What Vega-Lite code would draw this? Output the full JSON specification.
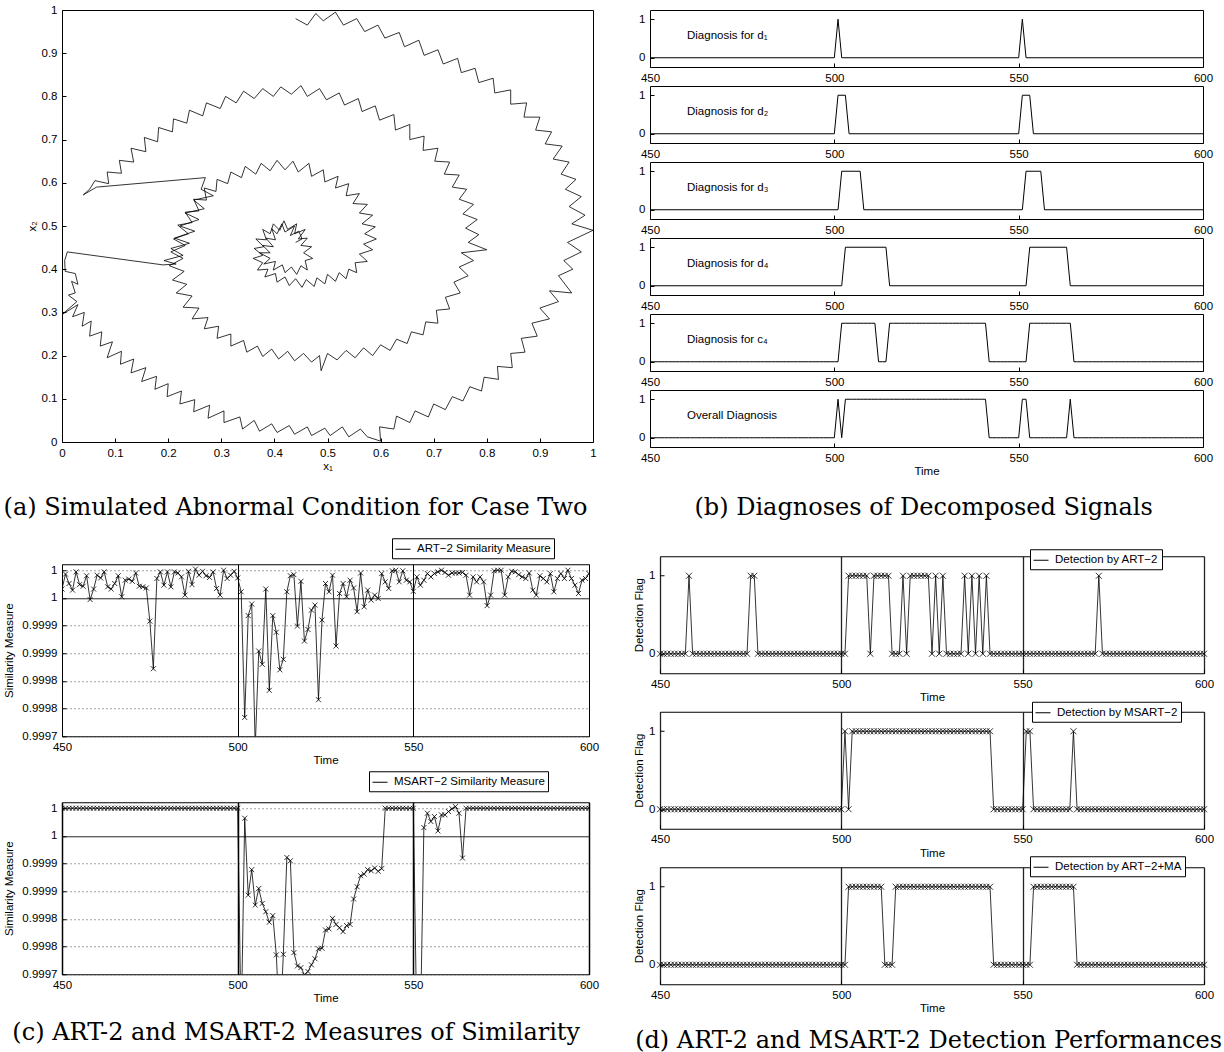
{
"$schema": "https://vega.github.io/schema/vega-lite/v6.json",
"background": "white",
"padding": {"left": 3, "top": 3, "right": 0, "bottom": 0},
"config": {
  "font": "Liberation Sans",
  "view": {"stroke": "black", "strokeWidth": 1},
  "axis": {"domain": false, "grid": false, "tickColor": "black", "tickSize": 4, "tickWidth": 1, "labelFont": "Liberation Sans", "labelFontSize": 11.5, "labelColor": "black", "titleFont": "Liberation Sans", "titleFontSize": 11.5, "titleFontWeight": "normal", "titleColor": "black"},
  "axisX": {"labelPadding": 5, "titlePadding": 2},
  "axisY": {"labelPadding": 5, "titlePadding": 4},
  "title": {"font": "DejaVu Serif", "fontSize": 24, "fontWeight": "normal", "color": "black", "orient": "bottom", "anchor": "middle"},
  "legend": {"strokeColor": "black", "fillColor": "white", "padding": 3, "labelFont": "Liberation Sans", "labelFontSize": 11.5, "labelColor": "black", "symbolType": "stroke", "symbolSize": 225, "symbolStrokeWidth": 1, "labelLimit": 0, "cornerRadius": 0, "labelOffset": 6, "rowPadding": 0, "title": null}
},
"datasets": {
"diag": [
{"s":"d1","t":450,"v":0},{"s":"d1","t":500,"v":0},{"s":"d1","t":501,"v":1},{"s":"d1","t":502,"v":0},{"s":"d1","t":550,"v":0},{"s":"d1","t":551,"v":1},{"s":"d1","t":552,"v":0},{"s":"d1","t":600,"v":0},
{"s":"d2","t":450,"v":0},{"s":"d2","t":500,"v":0},{"s":"d2","t":501,"v":1},{"s":"d2","t":503,"v":1},{"s":"d2","t":504,"v":0},{"s":"d2","t":550,"v":0},{"s":"d2","t":551,"v":1},{"s":"d2","t":553,"v":1},{"s":"d2","t":554,"v":0},{"s":"d2","t":600,"v":0},
{"s":"d3","t":450,"v":0},{"s":"d3","t":501,"v":0},{"s":"d3","t":502,"v":1},{"s":"d3","t":507,"v":1},{"s":"d3","t":508,"v":0},{"s":"d3","t":551,"v":0},{"s":"d3","t":552,"v":1},{"s":"d3","t":556,"v":1},{"s":"d3","t":557,"v":0},{"s":"d3","t":600,"v":0},
{"s":"d4","t":450,"v":0},{"s":"d4","t":502,"v":0},{"s":"d4","t":503,"v":1},{"s":"d4","t":514,"v":1},{"s":"d4","t":515,"v":0},{"s":"d4","t":552,"v":0},{"s":"d4","t":553,"v":1},{"s":"d4","t":563,"v":1},{"s":"d4","t":564,"v":0},{"s":"d4","t":600,"v":0}
],
"flags": [
{"s":"ART","t":450,"v":0},{"s":"ART","t":451,"v":0},{"s":"ART","t":452,"v":0},{"s":"ART","t":453,"v":0},{"s":"ART","t":454,"v":0},{"s":"ART","t":455,"v":0},{"s":"ART","t":456,"v":0},{"s":"ART","t":457,"v":0},{"s":"ART","t":458,"v":1},{"s":"ART","t":459,"v":0},
{"s":"ART","t":460,"v":0},{"s":"ART","t":461,"v":0},{"s":"ART","t":462,"v":0},{"s":"ART","t":463,"v":0},{"s":"ART","t":464,"v":0},{"s":"ART","t":465,"v":0},{"s":"ART","t":466,"v":0},{"s":"ART","t":467,"v":0},{"s":"ART","t":468,"v":0},{"s":"ART","t":469,"v":0},
{"s":"ART","t":470,"v":0},{"s":"ART","t":471,"v":0},{"s":"ART","t":472,"v":0},{"s":"ART","t":473,"v":0},{"s":"ART","t":474,"v":0},{"s":"ART","t":475,"v":1},{"s":"ART","t":476,"v":1},{"s":"ART","t":477,"v":0},{"s":"ART","t":478,"v":0},{"s":"ART","t":479,"v":0},
{"s":"ART","t":480,"v":0},{"s":"ART","t":481,"v":0},{"s":"ART","t":482,"v":0},{"s":"ART","t":483,"v":0},{"s":"ART","t":484,"v":0},{"s":"ART","t":485,"v":0},{"s":"ART","t":486,"v":0},{"s":"ART","t":487,"v":0},{"s":"ART","t":488,"v":0},{"s":"ART","t":489,"v":0},
{"s":"ART","t":490,"v":0},{"s":"ART","t":491,"v":0},{"s":"ART","t":492,"v":0},{"s":"ART","t":493,"v":0},{"s":"ART","t":494,"v":0},{"s":"ART","t":495,"v":0},{"s":"ART","t":496,"v":0},{"s":"ART","t":497,"v":0},{"s":"ART","t":498,"v":0},{"s":"ART","t":499,"v":0},
{"s":"ART","t":500,"v":0},{"s":"ART","t":501,"v":0},{"s":"ART","t":502,"v":1},{"s":"ART","t":503,"v":1},{"s":"ART","t":504,"v":1},{"s":"ART","t":505,"v":1},{"s":"ART","t":506,"v":1},{"s":"ART","t":507,"v":1},{"s":"ART","t":508,"v":0},{"s":"ART","t":509,"v":1},
{"s":"ART","t":510,"v":1},{"s":"ART","t":511,"v":1},{"s":"ART","t":512,"v":1},{"s":"ART","t":513,"v":1},{"s":"ART","t":514,"v":0},{"s":"ART","t":515,"v":0},{"s":"ART","t":516,"v":0},{"s":"ART","t":517,"v":1},{"s":"ART","t":518,"v":0},{"s":"ART","t":519,"v":1},
{"s":"ART","t":520,"v":1},{"s":"ART","t":521,"v":1},{"s":"ART","t":522,"v":1},{"s":"ART","t":523,"v":1},{"s":"ART","t":524,"v":1},{"s":"ART","t":525,"v":0},{"s":"ART","t":526,"v":1},{"s":"ART","t":527,"v":0},{"s":"ART","t":528,"v":1},{"s":"ART","t":529,"v":0},
{"s":"ART","t":530,"v":0},{"s":"ART","t":531,"v":0},{"s":"ART","t":532,"v":0},{"s":"ART","t":533,"v":0},{"s":"ART","t":534,"v":1},{"s":"ART","t":535,"v":0},{"s":"ART","t":536,"v":1},{"s":"ART","t":537,"v":0},{"s":"ART","t":538,"v":1},{"s":"ART","t":539,"v":0},
{"s":"ART","t":540,"v":1},{"s":"ART","t":541,"v":0},{"s":"ART","t":542,"v":0},{"s":"ART","t":543,"v":0},{"s":"ART","t":544,"v":0},{"s":"ART","t":545,"v":0},{"s":"ART","t":546,"v":0},{"s":"ART","t":547,"v":0},{"s":"ART","t":548,"v":0},{"s":"ART","t":549,"v":0},
{"s":"ART","t":550,"v":0},{"s":"ART","t":551,"v":0},{"s":"ART","t":552,"v":0},{"s":"ART","t":553,"v":0},{"s":"ART","t":554,"v":0},{"s":"ART","t":555,"v":0},{"s":"ART","t":556,"v":0},{"s":"ART","t":557,"v":0},{"s":"ART","t":558,"v":0},{"s":"ART","t":559,"v":0},
{"s":"ART","t":560,"v":0},{"s":"ART","t":561,"v":0},{"s":"ART","t":562,"v":0},{"s":"ART","t":563,"v":0},{"s":"ART","t":564,"v":0},{"s":"ART","t":565,"v":0},{"s":"ART","t":566,"v":0},{"s":"ART","t":567,"v":0},{"s":"ART","t":568,"v":0},{"s":"ART","t":569,"v":0},
{"s":"ART","t":570,"v":0},{"s":"ART","t":571,"v":1},{"s":"ART","t":572,"v":0},{"s":"ART","t":573,"v":0},{"s":"ART","t":574,"v":0},{"s":"ART","t":575,"v":0},{"s":"ART","t":576,"v":0},{"s":"ART","t":577,"v":0},{"s":"ART","t":578,"v":0},{"s":"ART","t":579,"v":0},
{"s":"ART","t":580,"v":0},{"s":"ART","t":581,"v":0},{"s":"ART","t":582,"v":0},{"s":"ART","t":583,"v":0},{"s":"ART","t":584,"v":0},{"s":"ART","t":585,"v":0},{"s":"ART","t":586,"v":0},{"s":"ART","t":587,"v":0},{"s":"ART","t":588,"v":0},{"s":"ART","t":589,"v":0},
{"s":"ART","t":590,"v":0},{"s":"ART","t":591,"v":0},{"s":"ART","t":592,"v":0},{"s":"ART","t":593,"v":0},{"s":"ART","t":594,"v":0},{"s":"ART","t":595,"v":0},{"s":"ART","t":596,"v":0},{"s":"ART","t":597,"v":0},{"s":"ART","t":598,"v":0},{"s":"ART","t":599,"v":0},{"s":"ART","t":600,"v":0},
{"s":"MSART","t":450,"v":0},{"s":"MSART","t":451,"v":0},{"s":"MSART","t":452,"v":0},{"s":"MSART","t":453,"v":0},{"s":"MSART","t":454,"v":0},{"s":"MSART","t":455,"v":0},{"s":"MSART","t":456,"v":0},{"s":"MSART","t":457,"v":0},{"s":"MSART","t":458,"v":0},{"s":"MSART","t":459,"v":0},
{"s":"MSART","t":460,"v":0},{"s":"MSART","t":461,"v":0},{"s":"MSART","t":462,"v":0},{"s":"MSART","t":463,"v":0},{"s":"MSART","t":464,"v":0},{"s":"MSART","t":465,"v":0},{"s":"MSART","t":466,"v":0},{"s":"MSART","t":467,"v":0},{"s":"MSART","t":468,"v":0},{"s":"MSART","t":469,"v":0},
{"s":"MSART","t":470,"v":0},{"s":"MSART","t":471,"v":0},{"s":"MSART","t":472,"v":0},{"s":"MSART","t":473,"v":0},{"s":"MSART","t":474,"v":0},{"s":"MSART","t":475,"v":0},{"s":"MSART","t":476,"v":0},{"s":"MSART","t":477,"v":0},{"s":"MSART","t":478,"v":0},{"s":"MSART","t":479,"v":0},
{"s":"MSART","t":480,"v":0},{"s":"MSART","t":481,"v":0},{"s":"MSART","t":482,"v":0},{"s":"MSART","t":483,"v":0},{"s":"MSART","t":484,"v":0},{"s":"MSART","t":485,"v":0},{"s":"MSART","t":486,"v":0},{"s":"MSART","t":487,"v":0},{"s":"MSART","t":488,"v":0},{"s":"MSART","t":489,"v":0},
{"s":"MSART","t":490,"v":0},{"s":"MSART","t":491,"v":0},{"s":"MSART","t":492,"v":0},{"s":"MSART","t":493,"v":0},{"s":"MSART","t":494,"v":0},{"s":"MSART","t":495,"v":0},{"s":"MSART","t":496,"v":0},{"s":"MSART","t":497,"v":0},{"s":"MSART","t":498,"v":0},{"s":"MSART","t":499,"v":0},
{"s":"MSART","t":500,"v":0},{"s":"MSART","t":501,"v":1},{"s":"MSART","t":502,"v":0},{"s":"MSART","t":503,"v":1},{"s":"MSART","t":504,"v":1},{"s":"MSART","t":505,"v":1},{"s":"MSART","t":506,"v":1},{"s":"MSART","t":507,"v":1},{"s":"MSART","t":508,"v":1},{"s":"MSART","t":509,"v":1},
{"s":"MSART","t":510,"v":1},{"s":"MSART","t":511,"v":1},{"s":"MSART","t":512,"v":1},{"s":"MSART","t":513,"v":1},{"s":"MSART","t":514,"v":1},{"s":"MSART","t":515,"v":1},{"s":"MSART","t":516,"v":1},{"s":"MSART","t":517,"v":1},{"s":"MSART","t":518,"v":1},{"s":"MSART","t":519,"v":1},
{"s":"MSART","t":520,"v":1},{"s":"MSART","t":521,"v":1},{"s":"MSART","t":522,"v":1},{"s":"MSART","t":523,"v":1},{"s":"MSART","t":524,"v":1},{"s":"MSART","t":525,"v":1},{"s":"MSART","t":526,"v":1},{"s":"MSART","t":527,"v":1},{"s":"MSART","t":528,"v":1},{"s":"MSART","t":529,"v":1},
{"s":"MSART","t":530,"v":1},{"s":"MSART","t":531,"v":1},{"s":"MSART","t":532,"v":1},{"s":"MSART","t":533,"v":1},{"s":"MSART","t":534,"v":1},{"s":"MSART","t":535,"v":1},{"s":"MSART","t":536,"v":1},{"s":"MSART","t":537,"v":1},{"s":"MSART","t":538,"v":1},{"s":"MSART","t":539,"v":1},
{"s":"MSART","t":540,"v":1},{"s":"MSART","t":541,"v":1},{"s":"MSART","t":542,"v":0},{"s":"MSART","t":543,"v":0},{"s":"MSART","t":544,"v":0},{"s":"MSART","t":545,"v":0},{"s":"MSART","t":546,"v":0},{"s":"MSART","t":547,"v":0},{"s":"MSART","t":548,"v":0},{"s":"MSART","t":549,"v":0},
{"s":"MSART","t":550,"v":0},{"s":"MSART","t":551,"v":1},{"s":"MSART","t":552,"v":1},{"s":"MSART","t":553,"v":0},{"s":"MSART","t":554,"v":0},{"s":"MSART","t":555,"v":0},{"s":"MSART","t":556,"v":0},{"s":"MSART","t":557,"v":0},{"s":"MSART","t":558,"v":0},{"s":"MSART","t":559,"v":0},
{"s":"MSART","t":560,"v":0},{"s":"MSART","t":561,"v":0},{"s":"MSART","t":562,"v":0},{"s":"MSART","t":563,"v":0},{"s":"MSART","t":564,"v":1},{"s":"MSART","t":565,"v":0},{"s":"MSART","t":566,"v":0},{"s":"MSART","t":567,"v":0},{"s":"MSART","t":568,"v":0},{"s":"MSART","t":569,"v":0},
{"s":"MSART","t":570,"v":0},{"s":"MSART","t":571,"v":0},{"s":"MSART","t":572,"v":0},{"s":"MSART","t":573,"v":0},{"s":"MSART","t":574,"v":0},{"s":"MSART","t":575,"v":0},{"s":"MSART","t":576,"v":0},{"s":"MSART","t":577,"v":0},{"s":"MSART","t":578,"v":0},{"s":"MSART","t":579,"v":0},
{"s":"MSART","t":580,"v":0},{"s":"MSART","t":581,"v":0},{"s":"MSART","t":582,"v":0},{"s":"MSART","t":583,"v":0},{"s":"MSART","t":584,"v":0},{"s":"MSART","t":585,"v":0},{"s":"MSART","t":586,"v":0},{"s":"MSART","t":587,"v":0},{"s":"MSART","t":588,"v":0},{"s":"MSART","t":589,"v":0},
{"s":"MSART","t":590,"v":0},{"s":"MSART","t":591,"v":0},{"s":"MSART","t":592,"v":0},{"s":"MSART","t":593,"v":0},{"s":"MSART","t":594,"v":0},{"s":"MSART","t":595,"v":0},{"s":"MSART","t":596,"v":0},{"s":"MSART","t":597,"v":0},{"s":"MSART","t":598,"v":0},{"s":"MSART","t":599,"v":0},{"s":"MSART","t":600,"v":0},
{"s":"ARTMA","t":450,"v":0},{"s":"ARTMA","t":451,"v":0},{"s":"ARTMA","t":452,"v":0},{"s":"ARTMA","t":453,"v":0},{"s":"ARTMA","t":454,"v":0},{"s":"ARTMA","t":455,"v":0},{"s":"ARTMA","t":456,"v":0},{"s":"ARTMA","t":457,"v":0},{"s":"ARTMA","t":458,"v":0},{"s":"ARTMA","t":459,"v":0},
{"s":"ARTMA","t":460,"v":0},{"s":"ARTMA","t":461,"v":0},{"s":"ARTMA","t":462,"v":0},{"s":"ARTMA","t":463,"v":0},{"s":"ARTMA","t":464,"v":0},{"s":"ARTMA","t":465,"v":0},{"s":"ARTMA","t":466,"v":0},{"s":"ARTMA","t":467,"v":0},{"s":"ARTMA","t":468,"v":0},{"s":"ARTMA","t":469,"v":0},
{"s":"ARTMA","t":470,"v":0},{"s":"ARTMA","t":471,"v":0},{"s":"ARTMA","t":472,"v":0},{"s":"ARTMA","t":473,"v":0},{"s":"ARTMA","t":474,"v":0},{"s":"ARTMA","t":475,"v":0},{"s":"ARTMA","t":476,"v":0},{"s":"ARTMA","t":477,"v":0},{"s":"ARTMA","t":478,"v":0},{"s":"ARTMA","t":479,"v":0},
{"s":"ARTMA","t":480,"v":0},{"s":"ARTMA","t":481,"v":0},{"s":"ARTMA","t":482,"v":0},{"s":"ARTMA","t":483,"v":0},{"s":"ARTMA","t":484,"v":0},{"s":"ARTMA","t":485,"v":0},{"s":"ARTMA","t":486,"v":0},{"s":"ARTMA","t":487,"v":0},{"s":"ARTMA","t":488,"v":0},{"s":"ARTMA","t":489,"v":0},
{"s":"ARTMA","t":490,"v":0},{"s":"ARTMA","t":491,"v":0},{"s":"ARTMA","t":492,"v":0},{"s":"ARTMA","t":493,"v":0},{"s":"ARTMA","t":494,"v":0},{"s":"ARTMA","t":495,"v":0},{"s":"ARTMA","t":496,"v":0},{"s":"ARTMA","t":497,"v":0},{"s":"ARTMA","t":498,"v":0},{"s":"ARTMA","t":499,"v":0},
{"s":"ARTMA","t":500,"v":0},{"s":"ARTMA","t":501,"v":0},{"s":"ARTMA","t":502,"v":1},{"s":"ARTMA","t":503,"v":1},{"s":"ARTMA","t":504,"v":1},{"s":"ARTMA","t":505,"v":1},{"s":"ARTMA","t":506,"v":1},{"s":"ARTMA","t":507,"v":1},{"s":"ARTMA","t":508,"v":1},{"s":"ARTMA","t":509,"v":1},
{"s":"ARTMA","t":510,"v":1},{"s":"ARTMA","t":511,"v":1},{"s":"ARTMA","t":512,"v":0},{"s":"ARTMA","t":513,"v":0},{"s":"ARTMA","t":514,"v":0},{"s":"ARTMA","t":515,"v":1},{"s":"ARTMA","t":516,"v":1},{"s":"ARTMA","t":517,"v":1},{"s":"ARTMA","t":518,"v":1},{"s":"ARTMA","t":519,"v":1},
{"s":"ARTMA","t":520,"v":1},{"s":"ARTMA","t":521,"v":1},{"s":"ARTMA","t":522,"v":1},{"s":"ARTMA","t":523,"v":1},{"s":"ARTMA","t":524,"v":1},{"s":"ARTMA","t":525,"v":1},{"s":"ARTMA","t":526,"v":1},{"s":"ARTMA","t":527,"v":1},{"s":"ARTMA","t":528,"v":1},{"s":"ARTMA","t":529,"v":1},
{"s":"ARTMA","t":530,"v":1},{"s":"ARTMA","t":531,"v":1},{"s":"ARTMA","t":532,"v":1},{"s":"ARTMA","t":533,"v":1},{"s":"ARTMA","t":534,"v":1},{"s":"ARTMA","t":535,"v":1},{"s":"ARTMA","t":536,"v":1},{"s":"ARTMA","t":537,"v":1},{"s":"ARTMA","t":538,"v":1},{"s":"ARTMA","t":539,"v":1},
{"s":"ARTMA","t":540,"v":1},{"s":"ARTMA","t":541,"v":1},{"s":"ARTMA","t":542,"v":0},{"s":"ARTMA","t":543,"v":0},{"s":"ARTMA","t":544,"v":0},{"s":"ARTMA","t":545,"v":0},{"s":"ARTMA","t":546,"v":0},{"s":"ARTMA","t":547,"v":0},{"s":"ARTMA","t":548,"v":0},{"s":"ARTMA","t":549,"v":0},
{"s":"ARTMA","t":550,"v":0},{"s":"ARTMA","t":551,"v":0},{"s":"ARTMA","t":552,"v":0},{"s":"ARTMA","t":553,"v":1},{"s":"ARTMA","t":554,"v":1},{"s":"ARTMA","t":555,"v":1},{"s":"ARTMA","t":556,"v":1},{"s":"ARTMA","t":557,"v":1},{"s":"ARTMA","t":558,"v":1},{"s":"ARTMA","t":559,"v":1},
{"s":"ARTMA","t":560,"v":1},{"s":"ARTMA","t":561,"v":1},{"s":"ARTMA","t":562,"v":1},{"s":"ARTMA","t":563,"v":1},{"s":"ARTMA","t":564,"v":1},{"s":"ARTMA","t":565,"v":0},{"s":"ARTMA","t":566,"v":0},{"s":"ARTMA","t":567,"v":0},{"s":"ARTMA","t":568,"v":0},{"s":"ARTMA","t":569,"v":0},
{"s":"ARTMA","t":570,"v":0},{"s":"ARTMA","t":571,"v":0},{"s":"ARTMA","t":572,"v":0},{"s":"ARTMA","t":573,"v":0},{"s":"ARTMA","t":574,"v":0},{"s":"ARTMA","t":575,"v":0},{"s":"ARTMA","t":576,"v":0},{"s":"ARTMA","t":577,"v":0},{"s":"ARTMA","t":578,"v":0},{"s":"ARTMA","t":579,"v":0},
{"s":"ARTMA","t":580,"v":0},{"s":"ARTMA","t":581,"v":0},{"s":"ARTMA","t":582,"v":0},{"s":"ARTMA","t":583,"v":0},{"s":"ARTMA","t":584,"v":0},{"s":"ARTMA","t":585,"v":0},{"s":"ARTMA","t":586,"v":0},{"s":"ARTMA","t":587,"v":0},{"s":"ARTMA","t":588,"v":0},{"s":"ARTMA","t":589,"v":0},
{"s":"ARTMA","t":590,"v":0},{"s":"ARTMA","t":591,"v":0},{"s":"ARTMA","t":592,"v":0},{"s":"ARTMA","t":593,"v":0},{"s":"ARTMA","t":594,"v":0},{"s":"ARTMA","t":595,"v":0},{"s":"ARTMA","t":596,"v":0},{"s":"ARTMA","t":597,"v":0},{"s":"ARTMA","t":598,"v":0},{"s":"ARTMA","t":599,"v":0},{"s":"ARTMA","t":600,"v":0}
],
"sim": [
{"s":"ART","t":450,"v":0.999966},{"s":"ART","t":451,"v":0.999993},{"s":"ART","t":452,"v":0.999976},{"s":"ART","t":453,"v":0.999964},{"s":"ART","t":454,"v":0.999997},{"s":"ART","t":455,"v":0.999974},{"s":"ART","t":456,"v":0.999971},{"s":"ART","t":457,"v":0.99999},{"s":"ART","t":458,"v":0.999947},{"s":"ART","t":459,"v":0.999966},
{"s":"ART","t":460,"v":0.999991},{"s":"ART","t":461,"v":0.999986},{"s":"ART","t":462,"v":0.999997},{"s":"ART","t":463,"v":0.99997},{"s":"ART","t":464,"v":0.999966},{"s":"ART","t":465,"v":0.999976},{"s":"ART","t":466,"v":0.99999},{"s":"ART","t":467,"v":0.999952},{"s":"ART","t":468,"v":0.999982},{"s":"ART","t":469,"v":0.999984},
{"s":"ART","t":470,"v":0.99998},{"s":"ART","t":471,"v":0.999995},{"s":"ART","t":472,"v":0.999971},{"s":"ART","t":473,"v":0.99997},{"s":"ART","t":474,"v":0.999968},{"s":"ART","t":475,"v":0.999908},{"s":"ART","t":476,"v":0.999822},{"s":"ART","t":477,"v":0.999985},{"s":"ART","t":478,"v":0.999997},{"s":"ART","t":479,"v":0.999973},
{"s":"ART","t":480,"v":0.999997},{"s":"ART","t":481,"v":0.99997},{"s":"ART","t":482,"v":0.999997},{"s":"ART","t":483,"v":0.999995},{"s":"ART","t":484,"v":0.999988},{"s":"ART","t":485,"v":0.999955},{"s":"ART","t":486,"v":0.999998},{"s":"ART","t":487,"v":0.999974},{"s":"ART","t":488,"v":1.000002},{"s":"ART","t":489,"v":0.999991},
{"s":"ART","t":490,"v":0.999998},{"s":"ART","t":491,"v":0.99999},{"s":"ART","t":492,"v":0.999987},{"s":"ART","t":493,"v":0.999997},{"s":"ART","t":494,"v":0.999967},{"s":"ART","t":495,"v":0.999955},{"s":"ART","t":496,"v":1.0},{"s":"ART","t":497,"v":0.999985},{"s":"ART","t":498,"v":0.999991},{"s":"ART","t":499,"v":0.999998},
{"s":"ART","t":500,"v":0.999986},{"s":"ART","t":501,"v":0.999961},{"s":"ART","t":502,"v":0.999734},{"s":"ART","t":503,"v":0.999918},{"s":"ART","t":504,"v":0.999939},{"s":"ART","t":505,"v":0.99968},{"s":"ART","t":506,"v":0.999854},{"s":"ART","t":507,"v":0.99983},{"s":"ART","t":508,"v":0.999966},{"s":"ART","t":509,"v":0.999783},
{"s":"ART","t":510,"v":0.999918},{"s":"ART","t":511,"v":0.999888},{"s":"ART","t":512,"v":0.99982},{"s":"ART","t":513,"v":0.999839},{"s":"ART","t":514,"v":0.999961},{"s":"ART","t":515,"v":0.99999},{"s":"ART","t":516,"v":0.999992},{"s":"ART","t":517,"v":0.999899},{"s":"ART","t":518,"v":0.99998},{"s":"ART","t":519,"v":0.999872},
{"s":"ART","t":520,"v":0.999893},{"s":"ART","t":521,"v":0.999928},{"s":"ART","t":522,"v":0.999937},{"s":"ART","t":523,"v":0.999766},{"s":"ART","t":524,"v":0.99991},{"s":"ART","t":525,"v":0.999976},{"s":"ART","t":526,"v":0.999961},{"s":"ART","t":527,"v":0.999991},{"s":"ART","t":528,"v":0.999863},{"s":"ART","t":529,"v":0.999958},
{"s":"ART","t":530,"v":0.999976},{"s":"ART","t":531,"v":0.999952},{"s":"ART","t":532,"v":0.999982},{"s":"ART","t":533,"v":0.999968},{"s":"ART","t":534,"v":0.999925},{"s":"ART","t":535,"v":0.999995},{"s":"ART","t":536,"v":0.999934},{"s":"ART","t":537,"v":0.999964},{"s":"ART","t":538,"v":0.999946},{"s":"ART","t":539,"v":0.999955},
{"s":"ART","t":540,"v":0.999949},{"s":"ART","t":541,"v":0.999994},{"s":"ART","t":542,"v":0.999979},{"s":"ART","t":543,"v":0.999967},{"s":"ART","t":544,"v":0.999999},{"s":"ART","t":545,"v":1.0},{"s":"ART","t":546,"v":0.999979},{"s":"ART","t":547,"v":0.999999},{"s":"ART","t":548,"v":0.999982},{"s":"ART","t":549,"v":0.999979},
{"s":"ART","t":550,"v":0.999962},{"s":"ART","t":551,"v":0.999988},{"s":"ART","t":552,"v":0.999973},{"s":"ART","t":553,"v":0.999982},{"s":"ART","t":554,"v":0.999994},{"s":"ART","t":555,"v":0.999988},{"s":"ART","t":556,"v":0.999994},{"s":"ART","t":557,"v":0.999997},{"s":"ART","t":558,"v":1.0},{"s":"ART","t":559,"v":0.999996},
{"s":"ART","t":560,"v":0.999991},{"s":"ART","t":561,"v":0.999995},{"s":"ART","t":562,"v":0.999995},{"s":"ART","t":563,"v":0.999995},{"s":"ART","t":564,"v":0.999996},{"s":"ART","t":565,"v":0.999991},{"s":"ART","t":566,"v":0.999955},{"s":"ART","t":567,"v":0.999988},{"s":"ART","t":568,"v":0.999979},{"s":"ART","t":569,"v":0.999988},
{"s":"ART","t":570,"v":0.999979},{"s":"ART","t":571,"v":0.999936},{"s":"ART","t":572,"v":0.999955},{"s":"ART","t":573,"v":0.999999},{"s":"ART","t":574,"v":1.0},{"s":"ART","t":575,"v":1.0},{"s":"ART","t":576,"v":0.999955},{"s":"ART","t":577,"v":0.999988},{"s":"ART","t":578,"v":0.999998},{"s":"ART","t":579,"v":0.999997},
{"s":"ART","t":580,"v":0.999992},{"s":"ART","t":581,"v":0.999988},{"s":"ART","t":582,"v":0.999985},{"s":"ART","t":583,"v":0.999995},{"s":"ART","t":584,"v":0.999964},{"s":"ART","t":585,"v":0.999955},{"s":"ART","t":586,"v":0.99999},{"s":"ART","t":587,"v":0.999985},{"s":"ART","t":588,"v":0.999979},{"s":"ART","t":589,"v":0.999994},
{"s":"ART","t":590,"v":0.999961},{"s":"ART","t":591,"v":0.999985},{"s":"ART","t":592,"v":0.999994},{"s":"ART","t":593,"v":0.999985},{"s":"ART","t":594,"v":1.0},{"s":"ART","t":595,"v":0.999985},{"s":"ART","t":596,"v":0.999973},{"s":"ART","t":597,"v":0.999958},{"s":"ART","t":598,"v":0.999982},{"s":"ART","t":599,"v":0.999985},{"s":"ART","t":600,"v":0.999994},
{"s":"MSART","t":450,"v":1.0},{"s":"MSART","t":451,"v":1.0},{"s":"MSART","t":452,"v":1.0},{"s":"MSART","t":453,"v":1.0},{"s":"MSART","t":454,"v":1.0},{"s":"MSART","t":455,"v":1.0},{"s":"MSART","t":456,"v":1.0},{"s":"MSART","t":457,"v":1.0},{"s":"MSART","t":458,"v":1.0},{"s":"MSART","t":459,"v":1.0},
{"s":"MSART","t":460,"v":1.0},{"s":"MSART","t":461,"v":1.0},{"s":"MSART","t":462,"v":1.0},{"s":"MSART","t":463,"v":1.0},{"s":"MSART","t":464,"v":1.0},{"s":"MSART","t":465,"v":1.0},{"s":"MSART","t":466,"v":1.0},{"s":"MSART","t":467,"v":1.0},{"s":"MSART","t":468,"v":1.0},{"s":"MSART","t":469,"v":1.0},
{"s":"MSART","t":470,"v":1.0},{"s":"MSART","t":471,"v":1.0},{"s":"MSART","t":472,"v":1.0},{"s":"MSART","t":473,"v":1.0},{"s":"MSART","t":474,"v":1.0},{"s":"MSART","t":475,"v":1.0},{"s":"MSART","t":476,"v":1.0},{"s":"MSART","t":477,"v":1.0},{"s":"MSART","t":478,"v":1.0},{"s":"MSART","t":479,"v":1.0},
{"s":"MSART","t":480,"v":1.0},{"s":"MSART","t":481,"v":1.0},{"s":"MSART","t":482,"v":1.0},{"s":"MSART","t":483,"v":1.0},{"s":"MSART","t":484,"v":1.0},{"s":"MSART","t":485,"v":1.0},{"s":"MSART","t":486,"v":1.0},{"s":"MSART","t":487,"v":1.0},{"s":"MSART","t":488,"v":1.0},{"s":"MSART","t":489,"v":1.0},
{"s":"MSART","t":490,"v":1.0},{"s":"MSART","t":491,"v":1.0},{"s":"MSART","t":492,"v":1.0},{"s":"MSART","t":493,"v":1.0},{"s":"MSART","t":494,"v":1.0},{"s":"MSART","t":495,"v":1.0},{"s":"MSART","t":496,"v":1.0},{"s":"MSART","t":497,"v":1.0},{"s":"MSART","t":498,"v":1.0},{"s":"MSART","t":499,"v":1.0},
{"s":"MSART","t":500,"v":1.0},{"s":"MSART","t":501,"v":0.9996},{"s":"MSART","t":502,"v":0.999982},{"s":"MSART","t":503,"v":0.999843},{"s":"MSART","t":504,"v":0.999889},{"s":"MSART","t":505,"v":0.999825},{"s":"MSART","t":506,"v":0.999855},{"s":"MSART","t":507,"v":0.999828},{"s":"MSART","t":508,"v":0.999813},{"s":"MSART","t":509,"v":0.999794},
{"s":"MSART","t":510,"v":0.999806},{"s":"MSART","t":511,"v":0.999735},{"s":"MSART","t":512,"v":0.9996},{"s":"MSART","t":513,"v":0.999736},{"s":"MSART","t":514,"v":0.999911},{"s":"MSART","t":515,"v":0.999905},{"s":"MSART","t":516,"v":0.999739},{"s":"MSART","t":517,"v":0.999715},{"s":"MSART","t":518,"v":0.999712},{"s":"MSART","t":519,"v":0.999699},
{"s":"MSART","t":520,"v":0.999705},{"s":"MSART","t":521,"v":0.999717},{"s":"MSART","t":522,"v":0.999728},{"s":"MSART","t":523,"v":0.999746},{"s":"MSART","t":524,"v":0.999747},{"s":"MSART","t":525,"v":0.99978},{"s":"MSART","t":526,"v":0.999782},{"s":"MSART","t":527,"v":0.999801},{"s":"MSART","t":528,"v":0.99979},{"s":"MSART","t":529,"v":0.999784},
{"s":"MSART","t":530,"v":0.999777},{"s":"MSART","t":531,"v":0.999788},{"s":"MSART","t":532,"v":0.99979},{"s":"MSART","t":533,"v":0.999836},{"s":"MSART","t":534,"v":0.999858},{"s":"MSART","t":535,"v":0.999878},{"s":"MSART","t":536,"v":0.999881},{"s":"MSART","t":537,"v":0.999889},{"s":"MSART","t":538,"v":0.999887},{"s":"MSART","t":539,"v":0.999892},
{"s":"MSART","t":540,"v":0.999886},{"s":"MSART","t":541,"v":0.999891},{"s":"MSART","t":542,"v":1.0},{"s":"MSART","t":543,"v":1.0},{"s":"MSART","t":544,"v":1.0},{"s":"MSART","t":545,"v":1.0},{"s":"MSART","t":546,"v":1.0},{"s":"MSART","t":547,"v":1.0},{"s":"MSART","t":548,"v":1.0},{"s":"MSART","t":549,"v":1.0},
{"s":"MSART","t":550,"v":1.0},{"s":"MSART","t":551,"v":0.9996},{"s":"MSART","t":552,"v":0.9996},{"s":"MSART","t":553,"v":0.999965},{"s":"MSART","t":554,"v":0.999991},{"s":"MSART","t":555,"v":0.999976},{"s":"MSART","t":556,"v":0.999985},{"s":"MSART","t":557,"v":0.999959},{"s":"MSART","t":558,"v":0.999988},{"s":"MSART","t":559,"v":0.999988},
{"s":"MSART","t":560,"v":0.999994},{"s":"MSART","t":561,"v":0.999999},{"s":"MSART","t":562,"v":1.000003},{"s":"MSART","t":563,"v":0.999991},{"s":"MSART","t":564,"v":0.99991},{"s":"MSART","t":565,"v":1.0},{"s":"MSART","t":566,"v":1.0},{"s":"MSART","t":567,"v":1.0},{"s":"MSART","t":568,"v":1.0},{"s":"MSART","t":569,"v":1.0},
{"s":"MSART","t":570,"v":1.0},{"s":"MSART","t":571,"v":1.0},{"s":"MSART","t":572,"v":1.0},{"s":"MSART","t":573,"v":1.0},{"s":"MSART","t":574,"v":1.0},{"s":"MSART","t":575,"v":1.0},{"s":"MSART","t":576,"v":1.0},{"s":"MSART","t":577,"v":1.0},{"s":"MSART","t":578,"v":1.0},{"s":"MSART","t":579,"v":1.0},
{"s":"MSART","t":580,"v":1.0},{"s":"MSART","t":581,"v":1.0},{"s":"MSART","t":582,"v":1.0},{"s":"MSART","t":583,"v":1.0},{"s":"MSART","t":584,"v":1.0},{"s":"MSART","t":585,"v":1.0},{"s":"MSART","t":586,"v":1.0},{"s":"MSART","t":587,"v":1.0},{"s":"MSART","t":588,"v":1.0},{"s":"MSART","t":589,"v":1.0},
{"s":"MSART","t":590,"v":1.0},{"s":"MSART","t":591,"v":1.0},{"s":"MSART","t":592,"v":1.0},{"s":"MSART","t":593,"v":1.0},{"s":"MSART","t":594,"v":1.0},{"s":"MSART","t":595,"v":1.0},{"s":"MSART","t":596,"v":1.0},{"s":"MSART","t":597,"v":1.0},{"s":"MSART","t":598,"v":1.0},{"s":"MSART","t":599,"v":1.0},{"s":"MSART","t":600,"v":1.0}
],
"spiral": [
{"i":1,"x":0.440,"y":0.462},{"i":2,"x":0.452,"y":0.470},{"i":3,"x":0.446,"y":0.488},{"i":4,"x":0.430,"y":0.478},{"i":5,"x":0.438,"y":0.500},{"i":6,"x":0.420,"y":0.486},{"i":7,"x":0.414,"y":0.505},{"i":8,"x":0.405,"y":0.482},{"i":9,"x":0.395,"y":0.494},{"i":10,"x":0.402,"y":0.468},
{"i":11,"x":0.384,"y":0.472},{"i":12,"x":0.398,"y":0.452},{"i":13,"x":0.378,"y":0.455},{"i":14,"x":0.392,"y":0.438},{"i":15,"x":0.372,"y":0.438},{"i":16,"x":0.392,"y":0.425},{"i":17,"x":0.380,"y":0.412},{"i":18,"x":0.402,"y":0.418},{"i":19,"x":0.398,"y":0.398},{"i":20,"x":0.415,"y":0.410},
{"i":21,"x":0.420,"y":0.392},{"i":22,"x":0.432,"y":0.405},{"i":23,"x":0.442,"y":0.388},{"i":24,"x":0.450,"y":0.408},{"i":25,"x":0.462,"y":0.398},{"i":26,"x":0.458,"y":0.420},{"i":27,"x":0.472,"y":0.425},{"i":28,"x":0.455,"y":0.438},{"i":29,"x":0.470,"y":0.452},{"i":30,"x":0.450,"y":0.455},
{"i":31,"x":0.462,"y":0.472},{"i":32,"x":0.445,"y":0.470},{"i":33,"x":0.458,"y":0.492},{"i":34,"x":0.438,"y":0.482},{"i":35,"x":0.442,"y":0.505},{"i":36,"x":0.425,"y":0.492},{"i":37,"x":0.418,"y":0.512},{"i":38,"x":0.410,"y":0.490},{"i":39,"x":0.398,"y":0.505},{"i":40,"x":0.392,"y":0.482},
{"i":41,"x":0.378,"y":0.492},{"i":42,"x":0.385,"y":0.468},{"i":43,"x":0.365,"y":0.470},{"i":44,"x":0.380,"y":0.452},{"i":45,"x":0.362,"y":0.448},{"i":46,"x":0.378,"y":0.432},{"i":47,"x":0.360,"y":0.425},{"i":48,"x":0.378,"y":0.415},{"i":49,"x":0.368,"y":0.398},{"i":50,"x":0.388,"y":0.400},
{"i":51,"x":0.382,"y":0.382},{"i":52,"x":0.402,"y":0.390},{"i":53,"x":0.405,"y":0.370},{"i":54,"x":0.420,"y":0.382},{"i":55,"x":0.428,"y":0.362},{"i":56,"x":0.440,"y":0.378},{"i":57,"x":0.452,"y":0.358},{"i":58,"x":0.460,"y":0.376},{"i":59,"x":0.475,"y":0.360},{"i":60,"x":0.480,"y":0.380},
{"i":61,"x":0.495,"y":0.366},{"i":62,"x":0.500,"y":0.388},{"i":63,"x":0.515,"y":0.372},{"i":64,"x":0.522,"y":0.392},{"i":65,"x":0.535,"y":0.378},{"i":66,"x":0.540,"y":0.400},{"i":67,"x":0.555,"y":0.392},{"i":68,"x":0.552,"y":0.415},{"i":69,"x":0.575,"y":0.418},{"i":70,"x":0.560,"y":0.435},
{"i":71,"x":0.585,"y":0.445},{"i":72,"x":0.568,"y":0.458},{"i":73,"x":0.592,"y":0.470},{"i":74,"x":0.570,"y":0.482},{"i":75,"x":0.590,"y":0.498},{"i":76,"x":0.565,"y":0.505},{"i":77,"x":0.585,"y":0.525},{"i":78,"x":0.560,"y":0.530},{"i":79,"x":0.575,"y":0.550},{"i":80,"x":0.548,"y":0.552},
{"i":81,"x":0.560,"y":0.575},{"i":82,"x":0.535,"y":0.570},{"i":83,"x":0.540,"y":0.598},{"i":84,"x":0.515,"y":0.588},{"i":85,"x":0.520,"y":0.615},{"i":86,"x":0.495,"y":0.602},{"i":87,"x":0.492,"y":0.630},{"i":88,"x":0.470,"y":0.615},{"i":89,"x":0.465,"y":0.645},{"i":90,"x":0.445,"y":0.625},
{"i":91,"x":0.435,"y":0.650},{"i":92,"x":0.420,"y":0.630},{"i":93,"x":0.405,"y":0.652},{"i":94,"x":0.392,"y":0.628},{"i":95,"x":0.375,"y":0.645},{"i":96,"x":0.365,"y":0.620},{"i":97,"x":0.345,"y":0.638},{"i":98,"x":0.338,"y":0.612},{"i":99,"x":0.318,"y":0.625},{"i":100,"x":0.312,"y":0.598},
{"i":101,"x":0.292,"y":0.608},{"i":102,"x":0.290,"y":0.580},{"i":103,"x":0.268,"y":0.588},{"i":104,"x":0.272,"y":0.560},{"i":105,"x":0.248,"y":0.562},{"i":106,"x":0.258,"y":0.535},{"i":107,"x":0.232,"y":0.532},{"i":108,"x":0.245,"y":0.508},{"i":109,"x":0.218,"y":0.502},{"i":110,"x":0.238,"y":0.482},
{"i":111,"x":0.210,"y":0.470},{"i":112,"x":0.232,"y":0.455},{"i":113,"x":0.205,"y":0.440},{"i":114,"x":0.228,"y":0.425},{"i":115,"x":0.202,"y":0.408},{"i":116,"x":0.230,"y":0.395},{"i":117,"x":0.208,"y":0.375},{"i":118,"x":0.235,"y":0.365},{"i":119,"x":0.215,"y":0.345},{"i":120,"x":0.245,"y":0.338},
{"i":121,"x":0.228,"y":0.312},{"i":122,"x":0.258,"y":0.310},{"i":123,"x":0.245,"y":0.285},{"i":124,"x":0.275,"y":0.288},{"i":125,"x":0.268,"y":0.262},{"i":126,"x":0.295,"y":0.268},{"i":127,"x":0.292,"y":0.240},{"i":128,"x":0.318,"y":0.250},{"i":129,"x":0.318,"y":0.222},{"i":130,"x":0.342,"y":0.235},
{"i":131,"x":0.348,"y":0.208},{"i":132,"x":0.368,"y":0.222},{"i":133,"x":0.378,"y":0.198},{"i":134,"x":0.395,"y":0.215},{"i":135,"x":0.408,"y":0.192},{"i":136,"x":0.425,"y":0.210},{"i":137,"x":0.438,"y":0.188},{"i":138,"x":0.455,"y":0.205},{"i":139,"x":0.470,"y":0.185},{"i":140,"x":0.485,"y":0.200},
{"i":141,"x":0.488,"y":0.165},{"i":142,"x":0.500,"y":0.205},{"i":143,"x":0.518,"y":0.190},{"i":144,"x":0.535,"y":0.212},{"i":145,"x":0.552,"y":0.195},{"i":146,"x":0.568,"y":0.218},{"i":147,"x":0.585,"y":0.200},{"i":148,"x":0.600,"y":0.225},{"i":149,"x":0.618,"y":0.212},{"i":150,"x":0.630,"y":0.238},
{"i":151,"x":0.650,"y":0.228},{"i":152,"x":0.658,"y":0.255},{"i":153,"x":0.680,"y":0.248},{"i":154,"x":0.685,"y":0.278},{"i":155,"x":0.708,"y":0.275},{"i":156,"x":0.705,"y":0.305},{"i":157,"x":0.730,"y":0.308},{"i":158,"x":0.722,"y":0.335},{"i":159,"x":0.750,"y":0.345},{"i":160,"x":0.738,"y":0.370},
{"i":161,"x":0.765,"y":0.385},{"i":162,"x":0.748,"y":0.405},{"i":163,"x":0.775,"y":0.420},{"i":164,"x":0.752,"y":0.438},{"i":165,"x":0.800,"y":0.445},{"i":166,"x":0.765,"y":0.462},{"i":167,"x":0.785,"y":0.480},{"i":168,"x":0.760,"y":0.495},{"i":169,"x":0.782,"y":0.515},{"i":170,"x":0.755,"y":0.528},
{"i":171,"x":0.775,"y":0.550},{"i":172,"x":0.748,"y":0.562},{"i":173,"x":0.762,"y":0.585},{"i":174,"x":0.735,"y":0.590},{"i":175,"x":0.748,"y":0.618},{"i":176,"x":0.720,"y":0.620},{"i":177,"x":0.730,"y":0.648},{"i":178,"x":0.702,"y":0.650},{"i":179,"x":0.708,"y":0.680},{"i":180,"x":0.680,"y":0.675},
{"i":181,"x":0.682,"y":0.708},{"i":182,"x":0.655,"y":0.700},{"i":183,"x":0.655,"y":0.735},{"i":184,"x":0.628,"y":0.722},{"i":185,"x":0.625,"y":0.758},{"i":186,"x":0.598,"y":0.745},{"i":187,"x":0.590,"y":0.778},{"i":188,"x":0.565,"y":0.765},{"i":189,"x":0.558,"y":0.795},{"i":190,"x":0.532,"y":0.780},
{"i":191,"x":0.522,"y":0.808},{"i":192,"x":0.498,"y":0.792},{"i":193,"x":0.485,"y":0.818},{"i":194,"x":0.462,"y":0.800},{"i":195,"x":0.450,"y":0.825},{"i":196,"x":0.432,"y":0.805},{"i":197,"x":0.412,"y":0.822},{"i":198,"x":0.398,"y":0.800},{"i":199,"x":0.378,"y":0.818},{"i":200,"x":0.362,"y":0.795},
{"i":201,"x":0.342,"y":0.812},{"i":202,"x":0.328,"y":0.785},{"i":203,"x":0.308,"y":0.800},{"i":204,"x":0.298,"y":0.772},{"i":205,"x":0.272,"y":0.785},{"i":206,"x":0.265,"y":0.755},{"i":207,"x":0.240,"y":0.768},{"i":208,"x":0.235,"y":0.738},{"i":209,"x":0.210,"y":0.748},{"i":210,"x":0.208,"y":0.718},
{"i":211,"x":0.182,"y":0.728},{"i":212,"x":0.180,"y":0.695},{"i":213,"x":0.155,"y":0.705},{"i":214,"x":0.158,"y":0.672},{"i":215,"x":0.130,"y":0.680},{"i":216,"x":0.135,"y":0.648},{"i":217,"x":0.108,"y":0.652},{"i":218,"x":0.112,"y":0.622},{"i":219,"x":0.085,"y":0.625},{"i":220,"x":0.088,"y":0.598},
{"i":221,"x":0.062,"y":0.605},{"i":222,"x":0.052,"y":0.585},{"i":223,"x":0.040,"y":0.572},{"i":224,"x":0.065,"y":0.590},{"i":225,"x":0.270,"y":0.612},{"i":226,"x":0.262,"y":0.585},{"i":227,"x":0.285,"y":0.570},{"i":228,"x":0.248,"y":0.560},{"i":229,"x":0.268,"y":0.540},{"i":230,"x":0.232,"y":0.530},
{"i":231,"x":0.258,"y":0.515},{"i":232,"x":0.222,"y":0.500},{"i":233,"x":0.250,"y":0.488},{"i":234,"x":0.212,"y":0.472},{"i":235,"x":0.240,"y":0.460},{"i":236,"x":0.205,"y":0.448},{"i":237,"x":0.228,"y":0.432},{"i":238,"x":0.192,"y":0.420},{"i":239,"x":0.215,"y":0.412},{"i":240,"x":0.190,"y":0.410},
{"i":241,"x":0.010,"y":0.440},{"i":242,"x":0.005,"y":0.420},{"i":243,"x":0.006,"y":0.395},{"i":244,"x":0.025,"y":0.390},{"i":245,"x":0.030,"y":0.365},{"i":246,"x":0.018,"y":0.372},{"i":247,"x":0.025,"y":0.345},{"i":248,"x":0.012,"y":0.340},{"i":249,"x":0.028,"y":0.325},{"i":250,"x":0.000,"y":0.295},
{"i":251,"x":0.030,"y":0.318},{"i":252,"x":0.020,"y":0.290},{"i":253,"x":0.042,"y":0.300},{"i":254,"x":0.038,"y":0.268},{"i":255,"x":0.055,"y":0.280},{"i":256,"x":0.052,"y":0.245},{"i":257,"x":0.075,"y":0.255},{"i":258,"x":0.072,"y":0.222},{"i":259,"x":0.095,"y":0.232},{"i":260,"x":0.085,"y":0.195},
{"i":261,"x":0.112,"y":0.210},{"i":262,"x":0.110,"y":0.180},{"i":263,"x":0.135,"y":0.192},{"i":264,"x":0.130,"y":0.160},{"i":265,"x":0.158,"y":0.172},{"i":266,"x":0.150,"y":0.140},{"i":267,"x":0.178,"y":0.152},{"i":268,"x":0.175,"y":0.122},{"i":269,"x":0.200,"y":0.135},{"i":270,"x":0.198,"y":0.105},
{"i":271,"x":0.225,"y":0.118},{"i":272,"x":0.222,"y":0.088},{"i":273,"x":0.250,"y":0.098},{"i":274,"x":0.248,"y":0.070},{"i":275,"x":0.278,"y":0.085},{"i":276,"x":0.275,"y":0.055},{"i":277,"x":0.305,"y":0.072},{"i":278,"x":0.305,"y":0.045},{"i":279,"x":0.335,"y":0.058},{"i":280,"x":0.340,"y":0.030},
{"i":281,"x":0.362,"y":0.050},{"i":282,"x":0.372,"y":0.025},{"i":283,"x":0.395,"y":0.042},{"i":284,"x":0.405,"y":0.022},{"i":285,"x":0.428,"y":0.038},{"i":286,"x":0.438,"y":0.018},{"i":287,"x":0.462,"y":0.035},{"i":288,"x":0.470,"y":0.015},{"i":289,"x":0.495,"y":0.032},{"i":290,"x":0.505,"y":0.015},
{"i":291,"x":0.528,"y":0.035},{"i":292,"x":0.540,"y":0.012},{"i":293,"x":0.562,"y":0.030},{"i":294,"x":0.575,"y":0.012},{"i":295,"x":0.600,"y":0.002},{"i":296,"x":0.598,"y":0.035},{"i":297,"x":0.625,"y":0.030},{"i":298,"x":0.630,"y":0.060},{"i":299,"x":0.655,"y":0.045},{"i":300,"x":0.665,"y":0.072},
{"i":301,"x":0.690,"y":0.058},{"i":302,"x":0.700,"y":0.088},{"i":303,"x":0.722,"y":0.075},{"i":304,"x":0.735,"y":0.105},{"i":305,"x":0.755,"y":0.095},{"i":306,"x":0.768,"y":0.128},{"i":307,"x":0.790,"y":0.118},{"i":308,"x":0.795,"y":0.150},{"i":309,"x":0.822,"y":0.145},{"i":310,"x":0.820,"y":0.175},
{"i":311,"x":0.848,"y":0.172},{"i":312,"x":0.845,"y":0.205},{"i":313,"x":0.872,"y":0.208},{"i":314,"x":0.865,"y":0.240},{"i":315,"x":0.895,"y":0.245},{"i":316,"x":0.885,"y":0.275},{"i":317,"x":0.918,"y":0.285},{"i":318,"x":0.900,"y":0.310},{"i":319,"x":0.935,"y":0.325},{"i":320,"x":0.918,"y":0.350},
{"i":321,"x":0.960,"y":0.345},{"i":322,"x":0.935,"y":0.385},{"i":323,"x":0.962,"y":0.400},{"i":324,"x":0.945,"y":0.420},{"i":325,"x":0.978,"y":0.440},{"i":326,"x":0.952,"y":0.462},{"i":327,"x":1.000,"y":0.490},{"i":328,"x":0.960,"y":0.505},{"i":329,"x":0.985,"y":0.525},{"i":330,"x":0.955,"y":0.545},
{"i":331,"x":0.978,"y":0.568},{"i":332,"x":0.948,"y":0.585},{"i":333,"x":0.968,"y":0.608},{"i":334,"x":0.940,"y":0.620},{"i":335,"x":0.955,"y":0.648},{"i":336,"x":0.925,"y":0.655},{"i":337,"x":0.942,"y":0.685},{"i":338,"x":0.910,"y":0.690},{"i":339,"x":0.922,"y":0.718},{"i":340,"x":0.892,"y":0.722},
{"i":341,"x":0.900,"y":0.752},{"i":342,"x":0.870,"y":0.752},{"i":343,"x":0.875,"y":0.785},{"i":344,"x":0.845,"y":0.782},{"i":345,"x":0.845,"y":0.815},{"i":346,"x":0.815,"y":0.808},{"i":347,"x":0.812,"y":0.842},{"i":348,"x":0.785,"y":0.832},{"i":349,"x":0.778,"y":0.865},{"i":350,"x":0.752,"y":0.855},
{"i":351,"x":0.745,"y":0.888},{"i":352,"x":0.718,"y":0.875},{"i":353,"x":0.708,"y":0.908},{"i":354,"x":0.682,"y":0.895},{"i":355,"x":0.672,"y":0.930},{"i":356,"x":0.645,"y":0.915},{"i":357,"x":0.635,"y":0.948},{"i":358,"x":0.608,"y":0.935},{"i":359,"x":0.595,"y":0.965},{"i":360,"x":0.570,"y":0.950},
{"i":361,"x":0.555,"y":0.980},{"i":362,"x":0.530,"y":0.965},{"i":363,"x":0.515,"y":0.995},{"i":364,"x":0.492,"y":0.975},{"i":365,"x":0.478,"y":0.992},{"i":366,"x":0.462,"y":0.965},{"i":367,"x":0.440,"y":0.980}
]
},
"resolve": {"scale": {"color": "independent"}},
"spacing": 16,
"vconcat": [
{"resolve": {"scale": {"color": "independent"}}, "spacing": 41, "hconcat": [
  {
    "width": 531, "height": 432,
    "title": {"text": "(a) Simulated Abnormal Condition for Case Two", "dx": -32, "offset": 24},
    "data": {"name": "spiral"},
    "mark": {"type": "line", "color": "black", "strokeWidth": 0.8},
    "encoding": {
      "x": {"field": "x", "type": "quantitative", "scale": {"domain": [0, 1], "nice": false}, "axis": {"orient": "bottom", "title": "x₁", "offset": -4, "labelFlush": false, "values": [0,0.1,0.2,0.3,0.4,0.5,0.6,0.7,0.8,0.9,1], "format": ".1~f"}},
      "y": {"field": "y", "type": "quantitative", "scale": {"domain": [0, 1], "nice": false}, "axis": {"orient": "left", "title": "x₂", "offset": -4, "values": [0,0.1,0.2,0.3,0.4,0.5,0.6,0.7,0.8,0.9,1], "format": ".1~f"}},
      "order": {"field": "i", "type": "quantitative"}}
  },
  {
    "title": {"text": "(b) Diagnoses of Decomposed Signals", "offset": 18, "dx": -2},
    "bounds": "flush",
    "spacing": 19,
    "vconcat": [
      {"width": 553, "height": 57, "title": {"text": "Diagnosis for d₁", "orient": "top", "anchor": "start", "frame": "group", "offset": -37, "dx": 37, "baseline": "middle", "font": "Liberation Sans", "fontSize": 11.5, "fontWeight": "normal", "color": "black"},
       "data": {"name": "diag"}, "transform": [{"filter": "datum.s === 'd1'"}], "mark": {"type": "line", "color": "black", "strokeWidth": 1},
       "encoding": {"x": {"field": "t", "type": "quantitative", "scale": {"domain": [450, 600], "nice": false, "zero": false}, "axis": {"orient": "bottom", "offset": -4, "labelFlush": false, "values": [450,500,550,600], "title": null}},
                    "y": {"field": "v", "type": "quantitative", "scale": {"domain": [-0.24, 1.24], "nice": false}, "axis": {"orient": "left", "offset": -4, "values": [0,1], "title": null}}}},
      {"width": 553, "height": 57, "title": {"text": "Diagnosis for d₂", "orient": "top", "anchor": "start", "frame": "group", "offset": -37, "dx": 37, "baseline": "middle", "font": "Liberation Sans", "fontSize": 11.5, "fontWeight": "normal", "color": "black"},
       "data": {"name": "diag"}, "transform": [{"filter": "datum.s === 'd2'"}], "mark": {"type": "line", "color": "black", "strokeWidth": 1},
       "encoding": {"x": {"field": "t", "type": "quantitative", "scale": {"domain": [450, 600], "nice": false, "zero": false}, "axis": {"orient": "bottom", "offset": -4, "labelFlush": false, "values": [450,500,550,600], "title": null}},
                    "y": {"field": "v", "type": "quantitative", "scale": {"domain": [-0.24, 1.24], "nice": false}, "axis": {"orient": "left", "offset": -4, "values": [0,1], "title": null}}}},
      {"width": 553, "height": 57, "title": {"text": "Diagnosis for d₃", "orient": "top", "anchor": "start", "frame": "group", "offset": -37, "dx": 37, "baseline": "middle", "font": "Liberation Sans", "fontSize": 11.5, "fontWeight": "normal", "color": "black"},
       "data": {"name": "diag"}, "transform": [{"filter": "datum.s === 'd3'"}], "mark": {"type": "line", "color": "black", "strokeWidth": 1},
       "encoding": {"x": {"field": "t", "type": "quantitative", "scale": {"domain": [450, 600], "nice": false, "zero": false}, "axis": {"orient": "bottom", "offset": -4, "labelFlush": false, "values": [450,500,550,600], "title": null}},
                    "y": {"field": "v", "type": "quantitative", "scale": {"domain": [-0.24, 1.24], "nice": false}, "axis": {"orient": "left", "offset": -4, "values": [0,1], "title": null}}}},
      {"width": 553, "height": 57, "title": {"text": "Diagnosis for d₄", "orient": "top", "anchor": "start", "frame": "group", "offset": -37, "dx": 37, "baseline": "middle", "font": "Liberation Sans", "fontSize": 11.5, "fontWeight": "normal", "color": "black"},
       "data": {"name": "diag"}, "transform": [{"filter": "datum.s === 'd4'"}], "mark": {"type": "line", "color": "black", "strokeWidth": 1},
       "encoding": {"x": {"field": "t", "type": "quantitative", "scale": {"domain": [450, 600], "nice": false, "zero": false}, "axis": {"orient": "bottom", "offset": -4, "labelFlush": false, "values": [450,500,550,600], "title": null}},
                    "y": {"field": "v", "type": "quantitative", "scale": {"domain": [-0.24, 1.24], "nice": false}, "axis": {"orient": "left", "offset": -4, "values": [0,1], "title": null}}}},
      {"width": 553, "height": 57, "title": {"text": "Diagnosis for c₄", "orient": "top", "anchor": "start", "frame": "group", "offset": -37, "dx": 37, "baseline": "middle", "font": "Liberation Sans", "fontSize": 11.5, "fontWeight": "normal", "color": "black"},
       "data": {"name": "flags"}, "transform": [{"filter": "datum.s === 'ARTMA'"}], "mark": {"type": "line", "color": "black", "strokeWidth": 1},
       "encoding": {"x": {"field": "t", "type": "quantitative", "scale": {"domain": [450, 600], "nice": false, "zero": false}, "axis": {"orient": "bottom", "offset": -4, "labelFlush": false, "values": [450,500,550,600], "title": null}},
                    "y": {"field": "v", "type": "quantitative", "scale": {"domain": [-0.24, 1.24], "nice": false}, "axis": {"orient": "left", "offset": -4, "values": [0,1], "title": null}}}},
      {"width": 553, "height": 57, "title": {"text": "Overall Diagnosis", "orient": "top", "anchor": "start", "frame": "group", "offset": -37, "dx": 37, "baseline": "middle", "font": "Liberation Sans", "fontSize": 11.5, "fontWeight": "normal", "color": "black"},
       "data": {"name": "flags"}, "transform": [{"filter": "datum.s === 'MSART'"}], "mark": {"type": "line", "color": "black", "strokeWidth": 1},
       "encoding": {"x": {"field": "t", "type": "quantitative", "scale": {"domain": [450, 600], "nice": false, "zero": false}, "axis": {"orient": "bottom", "offset": -4, "labelFlush": false, "values": [450,500,550,600], "title": "Time"}},
                    "y": {"field": "v", "type": "quantitative", "scale": {"domain": [-0.24, 1.24], "nice": false}, "axis": {"orient": "left", "offset": -4, "values": [0,1], "title": null}}}}
    ]
  }
]},
{"resolve": {"scale": {"color": "independent"}}, "center": true, "spacing": 33, "hconcat": [
  {
    "title": {"text": "(c) ART-2 and MSART-2 Measures of Similarity", "offset": 16, "dx": -5},
    "bounds": "flush",
    "spacing": 66,
    "resolve": {"scale": {"color": "independent"}},
    "vconcat": [
      {"width": 527, "height": 172, "data": {"name": "sim"}, "transform": [{"filter": "datum.s === 'ART'"}], "mark": {"type": "line", "strokeWidth": 0.8, "clip": true, "point": {"shape": "M-1,-1L1,1M-1,1L1,-1", "size": 25, "filled": false, "stroke": "black", "strokeWidth": 0.8, "clip": true}},
       "encoding": {
         "x": {"field": "t", "type": "quantitative", "scale": {"domain": [450, 600], "nice": false, "zero": false}, "axis": {"orient": "bottom", "offset": -4, "labelFlush": false, "values": [450,500,550,600], "title": "Time", "grid": true, "gridColor": "black", "gridWidth": 1}},
         "y": {"field": "v", "type": "quantitative", "scale": {"domain": [0.9997, 1.0000108], "nice": false, "zero": false}, "axis": {"orient": "left", "offset": -4, "titlePadding": 7, "values": [0.9997,0.99975,0.9998,0.99985,0.9999,0.99995,1.0], "labelExpr": "format(datum.value + 1e-9, '.4~f')", "title": "Similarity Measure", "grid": true, "gridDash": {"condition": {"test": "abs(datum.value - 0.99995) < 1e-8", "value": [1,0]}, "value": [1,3]}, "gridColor": {"condition": {"test": "abs(datum.value - 0.99995) < 1e-8", "value": "black"}, "value": "#444444"}}},
         "color": {"field": "s", "type": "nominal", "scale": {"range": ["black"]}, "legend": {"orient": "none", "legendX": 330, "legendY": -26, "labelExpr": "'ART−2 Similarity Measure'"}}}},
      {"width": 527, "height": 172, "data": {"name": "sim"}, "transform": [{"filter": "datum.s === 'MSART'"}], "mark": {"type": "line", "strokeWidth": 0.8, "clip": true, "point": {"shape": "M-1,-1L1,1M-1,1L1,-1", "size": 25, "filled": false, "stroke": "black", "strokeWidth": 0.8, "clip": true}},
       "encoding": {
         "x": {"field": "t", "type": "quantitative", "scale": {"domain": [450, 600], "nice": false, "zero": false}, "axis": {"orient": "bottom", "offset": -4, "labelFlush": false, "values": [450,500,550,600], "title": "Time", "grid": true, "gridColor": "black", "gridWidth": 1.5}},
         "y": {"field": "v", "type": "quantitative", "scale": {"domain": [0.9997, 1.0000108], "nice": false, "zero": false}, "axis": {"orient": "left", "offset": -4, "titlePadding": 7, "values": [0.9997,0.99975,0.9998,0.99985,0.9999,0.99995,1.0], "labelExpr": "format(datum.value + 1e-9, '.4~f')", "title": "Similarity Measure", "grid": true, "gridDash": {"condition": {"test": "abs(datum.value - 0.99995) < 1e-8", "value": [1,0]}, "value": [1,3]}, "gridColor": {"condition": {"test": "abs(datum.value - 0.99995) < 1e-8", "value": "black"}, "value": "#444444"}}},
         "color": {"field": "s", "type": "nominal", "scale": {"range": ["black"]}, "legend": {"orient": "none", "legendX": 307, "legendY": -31, "labelExpr": "'MSART−2 Similarity Measure'"}}}}
    ]
  },
  {
    "title": {"text": "(d) ART-2 and MSART-2 Detection Performances", "offset": 14, "dx": 5},
    "bounds": "flush",
    "spacing": 38.5,
    "resolve": {"scale": {"color": "independent"}},
    "vconcat": [
      {"width": 544, "height": 117, "data": {"name": "flags"}, "transform": [{"filter": "datum.s === 'ART'"}], "mark": {"type": "line", "strokeWidth": 0.8, "point": {"shape": "M-1,-1L1,1M-1,1L1,-1", "size": 36, "filled": false, "stroke": "black", "strokeWidth": 0.8}},
       "encoding": {
         "x": {"field": "t", "type": "quantitative", "scale": {"domain": [450, 600], "nice": false, "zero": false}, "axis": {"orient": "bottom", "offset": -4, "labelFlush": false, "values": [450,500,550,600], "title": "Time", "grid": true, "gridColor": "#222222", "gridWidth": 1.3}},
         "y": {"field": "v", "type": "quantitative", "scale": {"domain": [-0.25, 1.25], "nice": false}, "axis": {"orient": "left", "offset": -4, "values": [0,1], "title": "Detection Flag"}},
         "color": {"field": "s", "type": "nominal", "scale": {"range": ["black"]}, "legend": {"orient": "none", "legendX": 370, "legendY": -7, "labelExpr": "'Detection by ART−2'"}}}},
      {"width": 544, "height": 117, "data": {"name": "flags"}, "transform": [{"filter": "datum.s === 'MSART'"}], "mark": {"type": "line", "strokeWidth": 0.8, "point": {"shape": "M-1,-1L1,1M-1,1L1,-1", "size": 36, "filled": false, "stroke": "black", "strokeWidth": 0.8}},
       "encoding": {
         "x": {"field": "t", "type": "quantitative", "scale": {"domain": [450, 600], "nice": false, "zero": false}, "axis": {"orient": "bottom", "offset": -4, "labelFlush": false, "values": [450,500,550,600], "title": "Time", "grid": true, "gridColor": "#222222", "gridWidth": 1.3}},
         "y": {"field": "v", "type": "quantitative", "scale": {"domain": [-0.25, 1.25], "nice": false}, "axis": {"orient": "left", "offset": -4, "values": [0,1], "title": "Detection Flag"}},
         "color": {"field": "s", "type": "nominal", "scale": {"range": ["black"]}, "legend": {"orient": "none", "legendX": 372, "legendY": -10, "labelExpr": "'Detection by MSART−2'"}}}},
      {"width": 544, "height": 117, "data": {"name": "flags"}, "transform": [{"filter": "datum.s === 'ARTMA'"}], "mark": {"type": "line", "strokeWidth": 0.8, "point": {"shape": "M-1,-1L1,1M-1,1L1,-1", "size": 36, "filled": false, "stroke": "black", "strokeWidth": 0.8}},
       "encoding": {
         "x": {"field": "t", "type": "quantitative", "scale": {"domain": [450, 600], "nice": false, "zero": false}, "axis": {"orient": "bottom", "offset": -4, "labelFlush": false, "values": [450,500,550,600], "title": "Time", "grid": true, "gridColor": "#222222", "gridWidth": 1.3}},
         "y": {"field": "v", "type": "quantitative", "scale": {"domain": [-0.25, 1.25], "nice": false}, "axis": {"orient": "left", "offset": -4, "values": [0,1], "title": "Detection Flag"}},
         "color": {"field": "s", "type": "nominal", "scale": {"range": ["black"]}, "legend": {"orient": "none", "legendX": 370, "legendY": -11, "labelExpr": "'Detection by ART−2+MA'"}}}}
    ]
  }
]}
]
}
